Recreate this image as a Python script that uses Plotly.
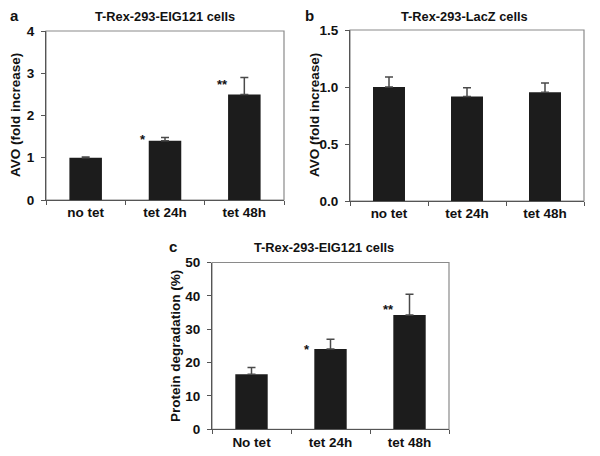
import plotly.graph_objects as go

cats_ab = ["no tet", "tet 24h", "tet 48h"]
cats_c = ["No tet", "tet 24h", "tet 48h"]

avo_eig = [1.0, 1.4, 2.5]
avo_eig_err = [0.02, 0.08, 0.4]
avo_eig_sig = ["", "*", "**"]

avo_lacz = [1.0, 0.917, 0.955]
avo_lacz_err = [0.087, 0.077, 0.079]

deg_eig = [16.5, 24.1, 34.3]
deg_eig_err = [2.0, 2.9, 6.2]
deg_eig_sig = ["", "*", "**"]

yticks_a = [0, 1, 2, 3, 4]
yticks_b = [0.0, 0.5, 1.0, 1.5]
yticks_c = [0, 10, 20, 30, 40, 50]

FONT = "Liberation Sans, Arial, sans-serif"
BAR = "#1c1c1c"
ERR = "#4a4a4a"
AX = "#555555"

# page body has an 8px margin; the figure is sized to fit the window
OFF = 8
W, H = 600 - OFF, 456 - OFF

def fx(x):
    return (x - OFF) / W

def fy(y):
    return 1 - (y - OFF) / H

fig = go.Figure()

def add_bars(x, y, err, xa, ya):
    fig.add_trace(go.Bar(
        x=x, y=y, xaxis=xa, yaxis=ya,
        marker=dict(color=BAR, line=dict(width=0)),
        error_y=dict(type="data", array=err, arrayminus=[0] * len(err),
                     symmetric=False, color=ERR, thickness=1.5, width=4),
        showlegend=False,
    ))

add_bars(cats_ab, avo_eig, avo_eig_err, "x", "y")
add_bars(cats_ab, avo_lacz, avo_lacz_err, "x2", "y2")
add_bars(cats_c, deg_eig, deg_eig_err, "x3", "y3")

tickfont = dict(family=FONT, size=13.5, color="#111111", weight="bold")

def xaxis_cfg(x0, x1, anchor):
    return dict(domain=[fx(x0), fx(x1)], anchor=anchor, type="category", automargin=False,
                showline=True, linecolor=AX, linewidth=1.2,
                ticks="outside", tickson="boundaries", ticklen=4, tickcolor=AX,
                tickfont=tickfont, showgrid=False, zeroline=False)

def yaxis_cfg(y_top, y_bot, anchor, rng, vals, texts):
    return dict(domain=[fy(y_bot), fy(y_top)], anchor=anchor, range=rng, automargin=False,
                tickvals=vals, ticktext=texts,
                showline=True, linecolor=AX, linewidth=1.2,
                ticks="outside", ticklen=4, tickcolor=AX, ticklabelstandoff=4,
                tickfont=tickfont, showgrid=False, zeroline=False)

fig.update_layout(
    width=W, height=H, autosize=False,
    margin=dict(l=0, r=0, t=0, b=0, pad=0),
    paper_bgcolor="white", plot_bgcolor="white",
    bargap=0.59,
    xaxis=xaxis_cfg(46, 284, "y"),
    yaxis=yaxis_cfg(31, 200, "x", [0, 4], yticks_a, [str(v) for v in yticks_a]),
    xaxis2=xaxis_cfg(350, 584, "y2"),
    yaxis2=yaxis_cfg(30, 201, "x2", [0, 1.5], yticks_b, [f"{v:.1f}" for v in yticks_b]),
    xaxis3=xaxis_cfg(212, 449, "y3"),
    yaxis3=yaxis_cfg(262.5, 429.3, "x3", [0, 50], yticks_c, [str(v) for v in yticks_c]),
)

# light frame (top/right border)
for xa, ya in [("x", "y"), ("x2", "y2"), ("x3", "y3")]:
    fig.add_shape(type="rect", xref=f"{xa} domain", yref=f"{ya} domain",
                  x0=0, x1=1, y0=0, y1=1, line=dict(color="#8a8a8a", width=1.2),
                  layer="below")

ann = []
def txt(x, y, s, size, angle=0):
    ann.append(dict(x=fx(x), y=fy(y), xref="paper", yref="paper",
                    text=f"<b>{s}</b>", showarrow=False, textangle=angle,
                    font=dict(family=FONT, size=size, color="#111111"),
                    xanchor="center", yanchor="middle"))

txt(165, 16, "T-Rex-293-EIG121 cells", 12.8)
txt(464, 16, "T-Rex-293-LacZ cells", 12.8)
txt(324, 247, "T-Rex-293-EIG121 cells", 12.8)
for lx, ly, s in [(8, 15, "a"), (303, 15, "b"), (167, 246, "c")]:
    ann.append(dict(x=fx(lx), y=fy(ly), xref="paper", yref="paper", text=f"<b>{s}</b>",
                    showarrow=False, xanchor="left", yanchor="middle",
                    font=dict(family=FONT, size=15, color="#111111")))
txt(15, 115, "AVO (fold increase)", 13.5, -90)
txt(314, 115, "AVO (fold increase)", 13.5, -90)
txt(175, 346, "Protein degradation (%)", 13.5, -90)

def sig(xa, ya, vals, marks, xshifts, yshifts):
    for i, (v, m) in enumerate(zip(vals, marks)):
        if not m:
            continue
        ann.append(dict(x=i, y=v, xref=xa, yref=ya, text=f"<b>{m}</b>", showarrow=False,
                        xanchor="center", yanchor="bottom", xshift=xshifts[i], yshift=yshifts[i],
                        font=dict(family=FONT, size=13, color="#111111")))

sig("x", "y", avo_eig, avo_eig_sig, [0, -22, -22], [0, -8, 0])
sig("x3", "y3", deg_eig, deg_eig_sig, [0, -24, -21], [0, -10, -4])

fig.update_layout(annotations=ann)
fig.write_html("out.html")
